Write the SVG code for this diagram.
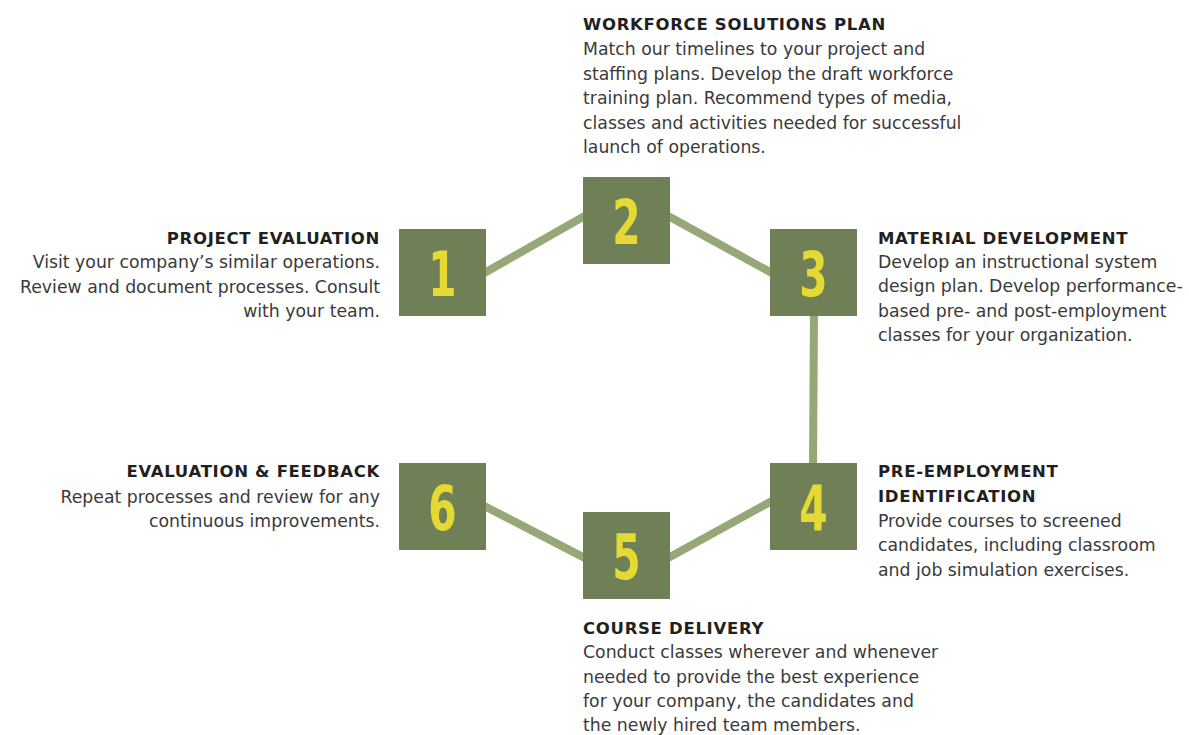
<svg xmlns="http://www.w3.org/2000/svg" width="1189" height="735" viewBox="0 0 1189 735">
<style>
.box{fill:#6f7f56}
.num{fill:#e5da33;font-family:"DejaVu Sans Condensed","DejaVu Sans",sans-serif;font-weight:bold;font-size:63px;text-anchor:middle}
.conn{stroke:#95a876;stroke-width:8;fill:none}
.h{fill:#231f20;font-family:"DejaVu Sans",sans-serif;font-weight:bold;font-size:16.5px;letter-spacing:0.7px}
.b{fill:#3a3a3a;font-family:"DejaVu Sans",sans-serif;font-size:17.3px}
.r{text-anchor:end}
</style>
<rect width="1189" height="735" fill="#ffffff"/>
<g id="connectors">
<line class="conn" x1="480" y1="275.4" x2="589" y2="213.6"/>
<line class="conn" x1="664" y1="213.7" x2="776" y2="275.3"/>
<line class="conn" x1="814" y1="310" x2="813" y2="469"/>
<line class="conn" x1="480" y1="503.9" x2="589" y2="560.1"/>
<line class="conn" x1="664" y1="560.3" x2="776" y2="498.7"/>
</g>
<g id="node1">
<rect class="box" x="399" y="229" width="87" height="87"/>
<text class="num" transform="translate(442.5,296) scale(0.72,1)">1</text>
<text class="h r" x="380" y="244">PROJECT EVALUATION</text>
<text class="b r" x="380" y="268">Visit your company’s similar operations.</text>
<text class="b r" x="380" y="293">Review and document processes. Consult</text>
<text class="b r" x="380" y="317">with your team.</text>
</g>
<g id="node2">
<rect class="box" x="583" y="177" width="87" height="87"/>
<text class="num" transform="translate(626.5,244) scale(0.72,1)">2</text>
<text class="h" x="583" y="30">WORKFORCE SOLUTIONS PLAN</text>
<text class="b" x="583" y="55">Match our timelines to your project and</text>
<text class="b" x="583" y="80">staffing plans. Develop the draft workforce</text>
<text class="b" x="583" y="104">training plan. Recommend types of media,</text>
<text class="b" x="583" y="129">classes and activities needed for successful</text>
<text class="b" x="583" y="153">launch of operations.</text>
</g>
<g id="node3">
<rect class="box" x="770" y="229" width="87" height="87"/>
<text class="num" transform="translate(813.5,296) scale(0.72,1)">3</text>
<text class="h" x="878" y="244">MATERIAL DEVELOPMENT</text>
<text class="b" x="878" y="268">Develop an instructional system</text>
<text class="b" x="878" y="292">design plan. Develop performance-</text>
<text class="b" x="878" y="317">based pre- and post-employment</text>
<text class="b" x="878" y="341">classes for your organization.</text>
</g>
<g id="node4">
<rect class="box" x="770" y="463" width="87" height="87"/>
<text class="num" transform="translate(813.5,530) scale(0.72,1)">4</text>
<text class="h" x="878" y="477">PRE-EMPLOYMENT</text>
<text class="h" x="878" y="502">IDENTIFICATION</text>
<text class="b" x="878" y="527">Provide courses to screened</text>
<text class="b" x="878" y="551">candidates, including classroom</text>
<text class="b" x="878" y="576">and job simulation exercises.</text>
</g>
<g id="node5">
<rect class="box" x="583" y="512" width="87" height="87"/>
<text class="num" transform="translate(626.5,579) scale(0.72,1)">5</text>
<text class="h" x="583" y="634">COURSE DELIVERY</text>
<text class="b" x="583" y="658">Conduct classes wherever and whenever</text>
<text class="b" x="583" y="683">needed to provide the best experience</text>
<text class="b" x="583" y="707">for your company, the candidates and</text>
<text class="b" x="583" y="731">the newly hired team members.</text>
</g>
<g id="node6">
<rect class="box" x="399" y="463" width="87" height="87"/>
<text class="num" transform="translate(442.5,530) scale(0.72,1)">6</text>
<text class="h r" x="380" y="477">EVALUATION &amp; FEEDBACK</text>
<text class="b r" x="380" y="503">Repeat processes and review for any</text>
<text class="b r" x="380" y="527">continuous improvements.</text>
</g>
</svg>
